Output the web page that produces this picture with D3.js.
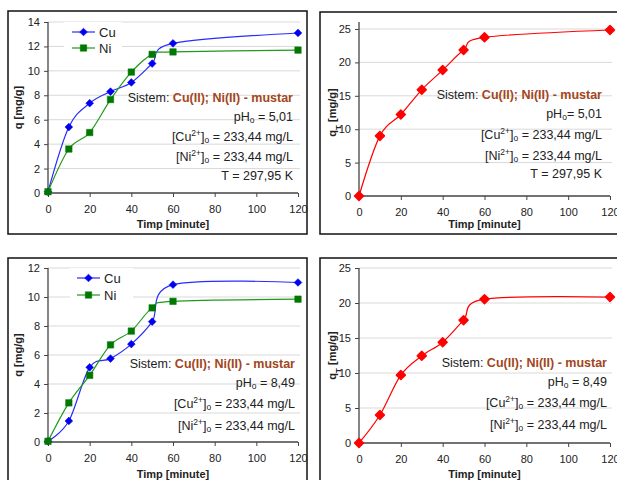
<!DOCTYPE html>
<html>
<head>
<meta charset="utf-8">
<script src="https://cdn.jsdelivr.net/npm/d3@7"></script>
<style>
  html, body { margin: 0; padding: 0; background: #fff; }
  svg { display: block; font-family: "Liberation Sans", Arial, sans-serif; }
</style>
</head>
<body>
<svg id="chart" width="617" height="480"></svg>
<script>
// ---- data ----
const times = [0, 10, 20, 30, 40, 50, 60, 120];
const cuPh501 = [0.1, 5.4, 7.35, 8.3, 9.05, 10.6, 12.25, 13.1];
const niPh501 = [0.1, 3.6, 4.95, 7.65, 9.9, 11.35, 11.55, 11.7];
const qtPh501 = [0, 9.0, 12.2, 15.9, 18.85, 21.85, 23.75, 24.85];
const cuPh849 = [0.05, 1.45, 5.15, 5.75, 6.75, 8.3, 10.85, 11.0];
const niPh849 = [0.05, 2.7, 4.6, 6.7, 7.65, 9.25, 9.7, 9.85];
const qtPh849 = [0, 4.0, 9.7, 12.45, 14.4, 17.55, 20.55, 20.85];
const xTicks = [0, 20, 40, 60, 80, 100, 120];
const yTicks14 = [0, 2, 4, 6, 8, 10, 12, 14];
const yTicks12 = [0, 2, 4, 6, 8, 10, 12];
const yTicks25 = [0, 5, 10, 15, 20, 25];
const seriesNames = ["Cu", "Ni"];
const xTitle = "Timp [minute]";
const sistemLabel = "Sistem: ";
const sistemValue = "Cu(II); Ni(II) - mustar";

const svg = d3.select("#chart");
const CU = "#2b2bff", CU_M = "#0000ee", NI = "#1f9a1f", NI_M = "#007800", RED = "#ff0000", BROWN = "#a3461c", TXT = "#222";

function panel(cfg) {
  const g = svg.append("g");
  // frame
  g.append("rect").attr("x", cfg.frame[0]).attr("y", cfg.frame[1])
    .attr("width", cfg.frame[2]).attr("height", cfg.frame[3])
    .attr("fill", "#fff").attr("stroke", "#111").attr("stroke-width", 1.5);
  const x = d3.scaleLinear().domain([0, 120]).range(cfg.xr);
  const y = d3.scaleLinear().domain([0, cfg.ymax]).range(cfg.yr);
  // gridlines
  g.append("g").selectAll("line").data(cfg.yTicks.filter(d => d > 0)).join("line")
    .attr("x1", cfg.xr[0]).attr("x2", cfg.xr[1] + 2)
    .attr("y1", d => y(d)).attr("y2", d => y(d))
    .attr("stroke", "#d9d9d9").attr("stroke-width", 1);
  // legend background
  if (cfg.legend) {
    g.append("rect").attr("x", cfg.legend.bx).attr("y", cfg.legend.by)
      .attr("width", cfg.legend.bw).attr("height", cfg.legend.bh).attr("fill", "#fff");
  }
  // axes
  const yAxis = d3.axisLeft(y).tickValues(cfg.yTicks).tickSize(4).tickPadding(4);
  const ya = g.append("g").attr("transform", `translate(${cfg.xr[0]},0)`).call(yAxis);
  ya.select(".domain").attr("d", `M-0,${cfg.yr[0]}V${cfg.ytop}`).attr("stroke", "#444").attr("stroke-width", 1.3);
  const xAxis = d3.axisBottom(x).tickValues(xTicks).tickSize(4).tickPadding(8);
  const xa = g.append("g").attr("transform", `translate(0,${cfg.yr[0]})`).call(xAxis);
  xa.select(".domain").attr("d", `M${cfg.xr[0]},0H${cfg.xr[1]}`).attr("stroke", "#444").attr("stroke-width", 1.3);
  [ya, xa].forEach(a => {
    a.selectAll(".tick line").attr("stroke", "#444");
    a.selectAll(".tick text").attr("fill", TXT).style("font-size", "11px")
      .style("font-family", "'Liberation Sans', Arial, sans-serif");
  });
  // axis titles
  g.append("text").attr("x", (cfg.xr[0] + cfg.xr[1]) / 2).attr("y", cfg.xTitleY)
    .attr("text-anchor", "middle").attr("dy", "0.35em")
    .style("font-size", "11px").style("font-weight", "bold").attr("fill", TXT).text(xTitle);
  const yt = g.append("text")
    .attr("transform", `translate(${cfg.yTitleX},${(cfg.yr[0] + cfg.yr[1]) / 2}) rotate(-90)`)
    .attr("text-anchor", "middle").attr("dy", "0.35em")
    .style("font-size", "11px").style("font-weight", "bold").attr("fill", TXT);
  if (cfg.qt) {
    yt.append("tspan").text("q");
    yt.append("tspan").attr("baseline-shift", "sub").style("font-size", "8px").text("T");
    yt.append("tspan").text(" [mg/g]");
  } else {
    yt.text("q [mg/g]");
  }
  // series
  const line = d3.line().x((d, i) => x(times[i])).y(d => y(d)).curve(d3.curveCardinal.tension(0));
  cfg.series.forEach(s => {
    g.append("path").attr("d", line(s.values)).attr("fill", "none")
      .attr("stroke", s.color).attr("stroke-width", 1.2);
    const sym = d3.symbol().type(d3.symbolSquare).size(s.size);
    g.append("g").selectAll("path").data(s.values).join("path")
      .attr("d", sym)
      .attr("transform", (d, i) => `translate(${x(times[i])},${y(d)})` + (s.shape === "diamond" ? " rotate(45)" : ""))
      .attr("fill", s.mcolor).attr("stroke", s.mcolor).attr("stroke-width", s.sw || 0.5)
      .attr("stroke-linejoin", "round");
  });
  // legend
  if (cfg.legend) {
    cfg.series.forEach((s, k) => {
      const ly = cfg.legend.y[k];
      g.append("line").attr("x1", cfg.legend.x1).attr("x2", cfg.legend.x2)
        .attr("y1", ly).attr("y2", ly).attr("stroke", s.color).attr("stroke-width", 1.2);
      g.append("path").attr("d", d3.symbol().type(d3.symbolSquare).size(s.size)())
        .attr("transform", `translate(${(cfg.legend.x1 + cfg.legend.x2) / 2},${ly})` + (s.shape === "diamond" ? " rotate(45)" : ""))
        .attr("fill", s.mcolor).attr("stroke", s.mcolor).attr("stroke-width", 0.5);
      g.append("text").attr("x", cfg.legend.x2 + 4).attr("y", ly).attr("dy", "0.35em")
        .style("font-size", "13px").attr("fill", TXT).text(seriesNames[k]);
    });
  }
  // annotation
  const ax = cfg.ann.x;
  const fs = "12.5px";
  const sub = (t, parts) => parts.forEach(p => {
    const ts = t.append("tspan").text(p.t);
    if (p.sup) ts.attr("baseline-shift", "super").style("font-size", "8.5px");
    if (p.sub) ts.attr("baseline-shift", "-20%").style("font-size", "8.5px");
  });
  const ann = cfg.ann.y;
  const t0 = g.append("text").attr("x", ax).attr("y", ann[0]).attr("dy", "0.35em")
    .attr("text-anchor", "end").style("font-size", fs).attr("fill", TXT);
  t0.append("tspan").text(sistemLabel);
  t0.append("tspan").attr("fill", BROWN).style("font-weight", "bold").text(sistemValue);
  const lines = [
    [{t: "pH"}, {t: "o", sub: true}, {t: cfg.ann.ph}],
    [{t: "[Cu"}, {t: "2+", sup: true}, {t: "]"}, {t: "o", sub: true}, {t: " = 233,44 mg/L"}],
    [{t: "[Ni"}, {t: "2+", sup: true}, {t: "]"}, {t: "o", sub: true}, {t: " = 233,44 mg/L"}]
  ];
  if (cfg.ann.T) lines.push([{t: cfg.ann.T}]);
  lines.forEach((parts, k) => {
    const t = g.append("text").attr("x", ax).attr("y", ann[k + 1]).attr("dy", "0.35em")
      .attr("text-anchor", "end").style("font-size", fs).attr("fill", TXT);
    sub(t, parts);
  });
}

const cuS = v => ({values: v, color: CU, mcolor: CU_M, shape: "diamond", size: 30});
const niS = v => ({values: v, color: NI, mcolor: NI_M, shape: "square", size: 42});
const qtS = v => ({values: v, color: RED, mcolor: RED, shape: "diamond", size: 40, sw: 1.5});

panel({
  frame: [8, 11, 299, 223], xr: [48, 298], yr: [193, 22], ytop: 22, ymax: 14, yTicks: yTicks14,
  xTitleY: 224, yTitleX: 18,
  series: [cuS(cuPh501), niS(niPh501)],
  legend: {bx: 64, by: 22, bw: 58, bh: 36, x1: 72, x2: 95, y: [32, 48]},
  ann: {x: 293, y: [98, 117, 137, 157, 176], ph: " = 5,01", T: "T = 297,95 K"}
});
panel({
  frame: [320, 12, 320, 222], xr: [359, 610], yr: [196, 29], ytop: 22, ymax: 25, yTicks: yTicks25,
  xTitleY: 224, yTitleX: 332, qt: true,
  series: [qtS(qtPh501)],
  ann: {x: 602, y: [95, 114, 135, 156, 174], ph: "= 5,01", T: "T = 297,95 K"}
});
panel({
  frame: [8, 258, 299, 240], xr: [48, 298], yr: [442, 268], ytop: 268, ymax: 12, yTicks: yTicks12,
  xTitleY: 474, yTitleX: 18,
  series: [cuS(cuPh849), niS(niPh849)],
  legend: {bx: 70, by: 268, bw: 63, bh: 36, x1: 77, x2: 100, y: [278, 295]},
  ann: {x: 295, y: [364, 383, 404, 426], ph: " = 8,49"}
});
panel({
  frame: [320, 258, 320, 240], xr: [359, 610], yr: [443, 268], ytop: 268, ymax: 25, yTicks: yTicks25,
  xTitleY: 474, yTitleX: 332, qt: true,
  series: [qtS(qtPh849)],
  ann: {x: 607, y: [363, 382, 403, 425], ph: " = 8,49"}
});
</script>
</body>
</html>
